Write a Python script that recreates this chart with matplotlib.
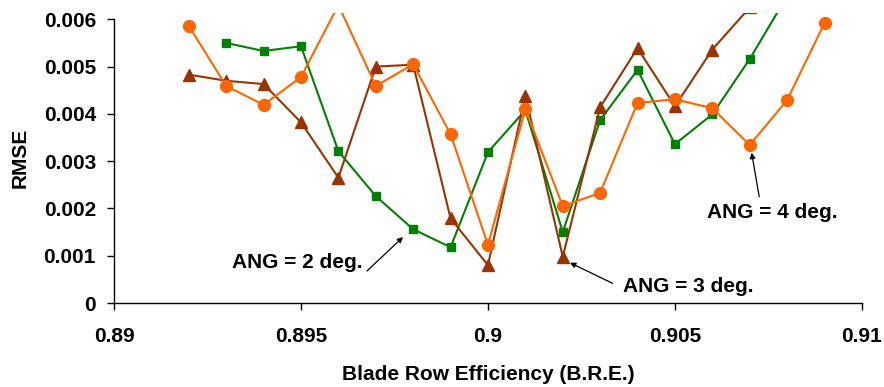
import matplotlib
matplotlib.use("Agg")
import matplotlib.pyplot as plt
from matplotlib.ticker import FuncFormatter

plt.rcParams['font.family'] = ['Liberation Sans', 'DejaVu Sans']
plt.rcParams['font.weight'] = 'bold'

# ANG = 2 deg. (green squares)
x_ang2 = [0.893, 0.894, 0.895, 0.896, 0.897, 0.898, 0.899, 0.900, 0.901, 0.902,
          0.903, 0.904, 0.905, 0.906, 0.907, 0.908]
y_ang2 = [0.00550, 0.00533, 0.00543, 0.00321, 0.00226, 0.00156, 0.00118, 0.00319,
          0.00408, 0.00150, 0.00387, 0.00493, 0.00336, 0.00399, 0.00516, 0.00649]

# ANG = 3 deg. (brown triangles)
x_ang3 = [0.892, 0.893, 0.894, 0.895, 0.896, 0.897, 0.898, 0.899, 0.900, 0.901,
          0.902, 0.903, 0.904, 0.905, 0.906, 0.907]
y_ang3 = [0.00483, 0.00470, 0.00463, 0.00382, 0.00265, 0.00500, 0.00504, 0.00179,
          0.00080, 0.00438, 0.00098, 0.00414, 0.00539, 0.00416, 0.00536, 0.00625]

# ANG = 4 deg. (orange circles)
x_ang4 = [0.892, 0.893, 0.894, 0.895, 0.896, 0.897, 0.898, 0.899, 0.900, 0.901,
          0.902, 0.903, 0.904, 0.905, 0.906, 0.907, 0.908, 0.909]
y_ang4 = [0.00586, 0.00459, 0.00419, 0.00478, 0.00630, 0.00459, 0.00505, 0.00357,
          0.00123, 0.00410, 0.00205, 0.00233, 0.00423, 0.00431, 0.00412, 0.00334,
          0.00429, 0.00592]

x_ticks = [0.89, 0.895, 0.9, 0.905, 0.91]
y_ticks = [0, 0.001, 0.002, 0.003, 0.004, 0.005, 0.006]

green = '#008000'
brown = '#993300'
orange = '#FF6600'
FS = 15

fig = plt.figure(figsize=(8.84, 3.87), dpi=100)
ax = fig.add_axes([0.129, 0.217, 0.846, 0.749])

ax.plot(x_ang2, y_ang2, color=green, lw=1.5, marker='s', ms=6, mec=green, mfc=green)
ax.plot(x_ang3, y_ang3, color=brown, lw=1.5, marker='^', ms=8, mec=brown, mfc=brown)
ax.plot(x_ang4, y_ang4, color=orange, lw=1.5, marker='o', ms=8.5, mec=orange, mfc=orange)

ax.set_xlim(0.89, 0.91)
ax.set_ylim(0, 0.00613)
ax.set_xticks(x_ticks)
ax.set_yticks(y_ticks)
ax.xaxis.set_major_formatter(FuncFormatter(lambda v, p: '%g' % round(v, 4)))
ax.yaxis.set_major_formatter(FuncFormatter(lambda v, p: '%g' % round(v, 4)))

for s in ['top', 'right']:
    ax.spines[s].set_visible(False)
ax.spines['left'].set_bounds(0, 0.006)
for s in ['left', 'bottom']:
    ax.spines[s].set_linewidth(1.0)
ax.tick_params(axis='both', direction='out', length=5, width=1.0, labelsize=FS)
ax.tick_params(axis='x', pad=12)
ax.tick_params(axis='y', pad=8)
for lab in ax.get_xticklabels() + ax.get_yticklabels():
    lab.set_fontweight('bold')

ax.set_xlabel('Blade Row Efficiency (B.R.E.)', fontsize=FS, fontweight='bold', labelpad=14)
ax.set_ylabel('RMSE', fontsize=FS, fontweight='bold', labelpad=10)

arrowprops = dict(arrowstyle='-|>', color='black', lw=0.9, mutation_scale=8, shrinkA=0, shrinkB=0)

ax.text(0.896658, 0.00074, 'ANG = 2 deg.', ha='right', va='baseline', fontsize=FS, fontweight='bold')
ax.annotate('', xy=(0.897727, 0.001395), xytext=(0.896765, 0.000677), arrowprops=arrowprops)

ax.text(0.903610, 0.000233, 'ANG = 3 deg.', ha='left', va='baseline', fontsize=FS, fontweight='bold')
ax.annotate('', xy=(0.902193, 0.000852), xytext=(0.903334, 0.000416), arrowprops=arrowprops)

ax.text(0.905864, 0.001797, 'ANG = 4 deg.', ha='left', va='baseline', fontsize=FS, fontweight='bold')
ax.annotate('', xy=(0.907051, 0.003178), xytext=(0.907254, 0.002247), arrowprops=arrowprops)

fig.savefig('out.png', dpi=100)
